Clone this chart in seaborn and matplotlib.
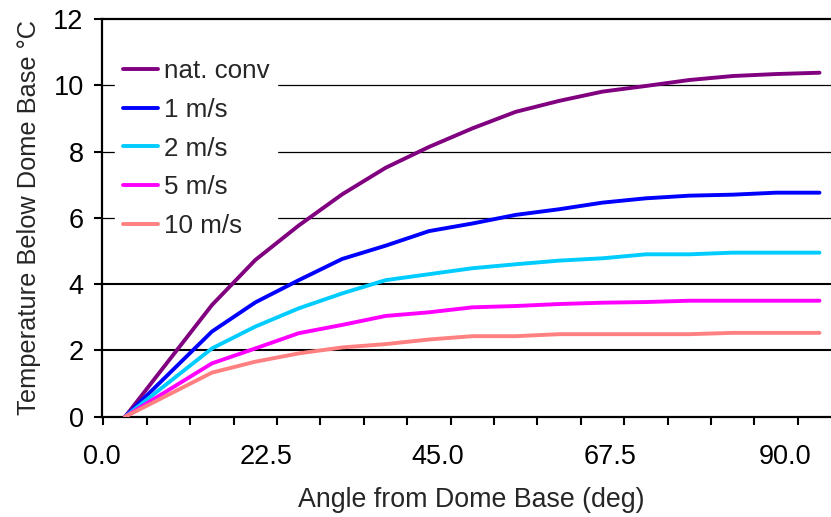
import matplotlib
matplotlib.use("Agg")
import matplotlib.pyplot as plt
import pandas as pd
import seaborn as sns


sns.set_theme(style="white")
plt.rcParams["font.family"] = ["Liberation Sans", "DejaVu Sans"]

# angle from dome base (deg)
ANGLES = [0.0, 11.25, 16.875, 22.5, 28.125, 33.75, 39.375, 45.0, 50.625,
          56.25, 61.875, 67.5, 73.125, 78.75, 84.375, 90.0]
NAT_CONV = [0.0, 3.37, 4.73, 5.77, 6.71, 7.51, 8.14, 8.70, 9.20,
            9.53, 9.81, 9.98, 10.16, 10.28, 10.34, 10.38]
WIND_1 = [0.0, 2.57, 3.45, 4.12, 4.76, 5.16, 5.60, 5.83, 6.09,
          6.26, 6.46, 6.59, 6.67, 6.70, 6.76, 6.76]
WIND_2 = [0.0, 2.06, 2.72, 3.27, 3.72, 4.12, 4.30, 4.48, 4.60,
          4.71, 4.78, 4.90, 4.90, 4.95, 4.95, 4.95]
WIND_5 = [0.0, 1.61, 2.06, 2.52, 2.77, 3.04, 3.15, 3.30, 3.34,
          3.40, 3.44, 3.46, 3.50, 3.50, 3.50, 3.50]
WIND_10 = [0.0, 1.33, 1.66, 1.91, 2.09, 2.19, 2.33, 2.43, 2.43,
           2.49, 2.49, 2.49, 2.49, 2.53, 2.53, 2.53]

SERIES = ["nat. conv", "1 m/s", "2 m/s", "5 m/s", "10 m/s"]
COLORS = ["#800080", "#0000FF", "#00CCFF", "#FF00FF", "#FF8080"]
X_LABELS = ["0.0", "22.5", "45.0", "67.5", "90.0"]
Y_TICKS = [0, 2, 4, 6, 8, 10, 12]

frames = []
for name, vals in zip(SERIES, [NAT_CONV, WIND_1, WIND_2, WIND_5, WIND_10]):
    frames.append(pd.DataFrame({"angle": ANGLES, "temp": vals, "series": name}))
df = pd.concat(frames, ignore_index=True)

fig = plt.figure(figsize=(8.31, 5.17), dpi=100)
ax = fig.add_axes([0.1224, 0.194, 0.8899, 0.7692])

# horizontal grid lines (the 2 and 4 lines are heavier in the original)
for y in Y_TICKS[1:-1]:
    ax.axhline(y, color="black", lw=1.5 if y <= 4 else 0.9, zorder=1)

sns.lineplot(data=df, x="angle", y="temp", hue="series", hue_order=SERIES,
             palette=dict(zip(SERIES, COLORS)), linewidth=2.8,
             solid_capstyle="round", ax=ax, zorder=3)

ax.set_xlim(-2.8125, 92.8125)
ax.set_ylim(0, 12)
ax.set_yticks(Y_TICKS)
ax.set_yticklabels([str(t) for t in Y_TICKS])

# category style axis: tick marks between slots, labels every fourth slot
ax.set_xticks([-2.8125 + 5.625 * i for i in range(18)], minor=True)
ax.set_xticks([-3.04, 18.3, 40.5, 62.9, 85.5])
ax.set_xticklabels(X_LABELS)
ax.tick_params(axis="x", which="major", length=0, pad=20, labelsize=19.5, colors="black")
ax.tick_params(axis="x", which="minor", length=6, width=1.5, direction="out",
               bottom=True, color="black")
ax.tick_params(axis="y", length=6, width=1.5, direction="out", left=True,
               pad=7, labelsize=19.5, colors="black")

for side in ["left", "bottom", "top", "right"]:
    ax.spines[side].set_color("black")
    ax.spines[side].set_linewidth(1.6)

ax.set_xlabel("Angle from Dome Base (deg)", fontsize=19.3, labelpad=12)
ax.set_ylabel("Temperature Below Dome Base °C", fontsize=18.3, labelpad=9)

handles, labels = ax.get_legend_handles_labels()
leg = ax.legend(handles, labels, loc="upper left", bbox_to_anchor=(0.018, 0.918),
                borderaxespad=0, frameon=True, fancybox=False, fontsize=18.7,
                handlelength=1.35, handletextpad=0.23, labelspacing=0.56,
                borderpad=0.3)
leg.get_frame().set_facecolor("white")
leg.get_frame().set_edgecolor("white")
leg.get_frame().set_alpha(1)
leg.set_zorder(2)
for h in leg.legend_handles:
    h.set_linewidth(2.8)

fig.savefig("out.png", dpi=100)
